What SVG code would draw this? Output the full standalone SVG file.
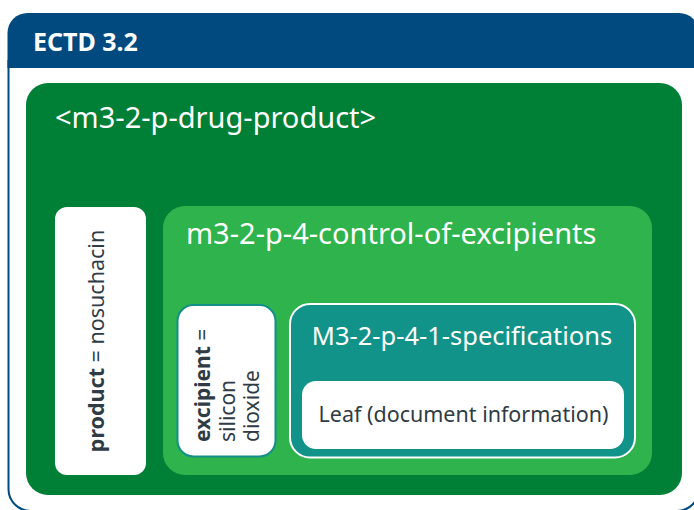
<svg xmlns="http://www.w3.org/2000/svg" width="694" height="510" viewBox="0 0 694 510">
<style>
text{font-family:"Noto Sans","Open Sans","Liberation Sans",sans-serif}
.w{fill:#ffffff}
.d{fill:#2f3b45}
</style>
<rect width="694" height="510" fill="#ffffff"/>
<g id="frame">
<path d="M8.5,60 V489 A22,22 0 0 0 30.5,511 H677 A22,22 0 0 0 699,489 V60" fill="#ffffff" stroke="#014a7f" stroke-width="2"/>
<path d="M7.5,68 V33 A20,20 0 0 1 27.5,13 H679 A20,20 0 0 1 699,33 V68 Z" fill="#014a7f"/>
<text x="33" y="51" class="w" font-size="25" font-weight="bold">ECTD 3.2</text>
</g>
<g id="drug-product">
<rect x="26" y="83" width="656" height="412" rx="22" fill="#008037"/>
<text x="55" y="128" class="w" font-size="29">&lt;m3-2-p-drug-product&gt;</text>
</g>
<g id="product">
<rect x="55" y="207" width="91" height="268" rx="12" fill="#ffffff"/>
<text transform="translate(104,341) rotate(-90)" text-anchor="middle" class="d" font-size="21.5"><tspan font-weight="bold">product</tspan> = nosuchacin</text>
</g>
<g id="control-of-excipients">
<rect x="163" y="206" width="489" height="269" rx="22" fill="#2fb34c"/>
<text x="186" y="244" class="w" font-size="29">m3-2-p-4-control-of-excipients</text>
</g>
<g id="excipient">
<rect x="177.5" y="305" width="98" height="151.5" rx="16" fill="#ffffff" stroke="#138f8a" stroke-width="2"/>
<text transform="translate(210,442) rotate(-90)" class="d" font-size="21"><tspan font-weight="bold">excipient</tspan> =</text>
<text transform="translate(234.5,442) rotate(-90)" class="d" font-size="21">silicon</text>
<text transform="translate(259,442) rotate(-90)" class="d" font-size="21">dioxide</text>
</g>
<g id="specifications">
<rect x="290" y="304" width="345" height="153.5" rx="20" fill="#12938a" stroke="#ffffff" stroke-width="2"/>
<text x="462" y="345" text-anchor="middle" class="w" font-size="25.5">M3-2-p-4-1-specifications</text>
</g>
<g id="leaf">
<rect x="302" y="381" width="322" height="68" rx="14" fill="#ffffff"/>
<text x="463.5" y="422" text-anchor="middle" class="d" font-size="21.5">Leaf (document information)</text>
</g>
<g id="connectors"></g>
</svg>
